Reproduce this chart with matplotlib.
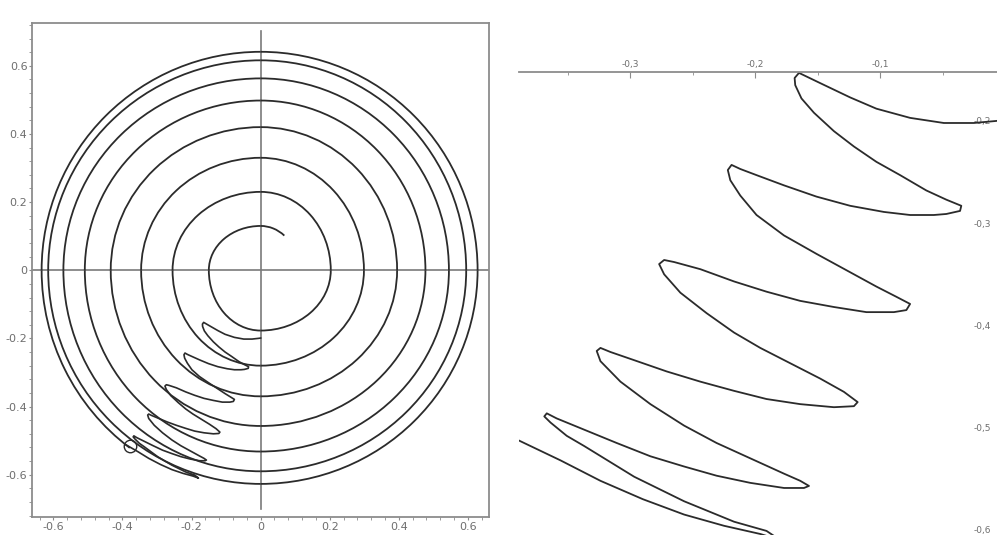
import matplotlib
matplotlib.use("Agg")
import matplotlib.pyplot as plt
from matplotlib.patches import Arc

# spiral: radius where it crosses the axes, counter-clockwise, starting at the top
ring_cross = [0.130, 0.150, 0.177, 0.203, 0.230, 0.255, 0.280, 0.299,
              0.330, 0.346, 0.370, 0.395, 0.420, 0.434, 0.457, 0.477,
              0.498, 0.509, 0.532, 0.545, 0.563, 0.571, 0.590, 0.595,
              0.616, 0.615, 0.627, 0.628, 0.641, 0.634]
spiral_start_angle = 56      # inner end of the spiral (deg)
spiral_start_rx = 0.11
spiral_end_angle = 234       # outer end, where the small circle sits
spiral_end_ry = 0.65
marker_x = [-0.378]
marker_y = [-0.517]

# the folded curve in the lower left
zig = [
    (-0.392, -0.511), (-0.356, -0.532), (-0.324, -0.552), (-0.290, -0.570),
    (-0.257, -0.585), (-0.225, -0.596), (-0.196, -0.604), (-0.180, -0.610),
    (-0.191, -0.601), (-0.217, -0.592), (-0.257, -0.572), (-0.297, -0.548),
    (-0.337, -0.518), (-0.351, -0.508), (-0.364, -0.495), (-0.369, -0.489),
    (-0.367, -0.486), (-0.359, -0.491), (-0.337, -0.502), (-0.311, -0.515),
    (-0.284, -0.528), (-0.257, -0.538), (-0.231, -0.547), (-0.204, -0.554),
    (-0.177, -0.559), (-0.161, -0.559), (-0.157, -0.557), (-0.164, -0.552),
    (-0.177, -0.545), (-0.204, -0.530), (-0.231, -0.515), (-0.257, -0.498),
    (-0.284, -0.477), (-0.308, -0.455), (-0.324, -0.435), (-0.327, -0.425),
    (-0.324, -0.422), (-0.316, -0.426), (-0.297, -0.434), (-0.271, -0.445),
    (-0.244, -0.455), (-0.217, -0.464), (-0.191, -0.472), (-0.164, -0.477),
    (-0.137, -0.480), (-0.121, -0.479), (-0.118, -0.475), (-0.129, -0.465),
    (-0.148, -0.452), (-0.172, -0.437), (-0.196, -0.422), (-0.217, -0.407),
    (-0.239, -0.388), (-0.260, -0.368), (-0.273, -0.350), (-0.277, -0.340),
    (-0.273, -0.336), (-0.265, -0.338), (-0.244, -0.345), (-0.217, -0.357),
    (-0.191, -0.367), (-0.164, -0.376), (-0.137, -0.382), (-0.111, -0.387),
    (-0.089, -0.387), (-0.079, -0.385), (-0.076, -0.379), (-0.087, -0.372),
    (-0.103, -0.362), (-0.124, -0.348), (-0.151, -0.330), (-0.177, -0.312),
    (-0.199, -0.292), (-0.212, -0.273), (-0.220, -0.258), (-0.222, -0.248),
    (-0.219, -0.243), (-0.212, -0.247), (-0.199, -0.253), (-0.177, -0.263),
    (-0.151, -0.274), (-0.124, -0.283), (-0.097, -0.289), (-0.076, -0.292),
    (-0.057, -0.292), (-0.047, -0.291), (-0.036, -0.288), (-0.035, -0.283),
    (-0.047, -0.277), (-0.063, -0.268), (-0.084, -0.253), (-0.103, -0.240),
    (-0.121, -0.225), (-0.137, -0.210), (-0.153, -0.192), (-0.163, -0.178),
    (-0.168, -0.165), (-0.1685, -0.158), (-0.165, -0.153), (-0.148, -0.163),
    (-0.124, -0.177), (-0.103, -0.188), (-0.076, -0.197), (-0.049, -0.202),
    (-0.025, -0.202), (-0.007, -0.200), (0.000, -0.199),
]
zig_x = [p[0] for p in zig]
zig_y = [p[1] for p in zig]

left_ticks = [-0.6, -0.4, -0.2, 0, 0.2, 0.4, 0.6]
left_ticklabels = ['-0.6', '-0.4', '-0.2', '0', '0.2', '0.4', '0.6']
right_xticks = [-0.3, -0.2, -0.1]
right_xticklabels = ['-0,3', '-0,2', '-0,1']
right_yticks = [-0.2, -0.3, -0.4, -0.5, -0.6]
right_yticklabels = ['-0,2', '-0,3', '-0,4', '-0,5', '-0,6']

W, H = 997, 535
fig = plt.figure(figsize=(W / 100, H / 100), dpi=100)
curve_col = '#2b2b2b'
axis_col = '#7a7a7a'
lab_col = '#6e6e6e'

# ---------------- left panel ----------------
ax = fig.add_axes([32.3 / W, 1 - 517.3 / H, (489 - 32.3) / W, (517.3 - 22.5) / H])
ax.set_xlim(-0.661, 0.661)
ax.set_ylim(-0.725, 0.727)

def quarter(rx, ry, t1, t2):
    ax.add_patch(Arc((0, 0), 2 * rx, 2 * ry, theta1=t1, theta2=t2,
                     color=curve_col, lw=1.3))

quarter(spiral_start_rx, ring_cross[0], spiral_start_angle, 90)
for i in range(len(ring_cross) - 1):
    a = 90 * (i + 1)
    c0, c1 = ring_cross[i], ring_cross[i + 1]
    if (a // 90) % 2 == 1:      # starts on the y axis
        rx, ry = c1, c0
    else:
        rx, ry = c0, c1
    quarter(rx, ry, a % 360, a % 360 + 90)
quarter(ring_cross[-1], spiral_end_ry, 180, spiral_end_angle)

ax.plot(zig_x, zig_y, color=curve_col, lw=1.2, solid_joinstyle='round')
ax.plot(marker_x, marker_y, 'o', ms=9, mfc='none', mec=curve_col, mew=1.0)

ax.axhline(0, color=axis_col, lw=1.2, zorder=0)
ax.axvline(0, ymin=0.017, ymax=0.983, color=axis_col, lw=1.2, zorder=0)

for s in ax.spines.values():
    s.set_color('#8c8c8c')
    s.set_linewidth(1.3)
ax.set_xticks(left_ticks)
ax.set_xticklabels(left_ticklabels)
ax.set_yticks(left_ticks)
ax.set_yticklabels(left_ticklabels)
ax.set_xticks([i * 0.04 - 0.64 for i in range(33)], minor=True)
ax.set_yticks([i * 0.04 - 0.72 for i in range(37)], minor=True)
ax.tick_params(which='both', direction='out', color='#8c8c8c', labelcolor=lab_col,
               labelsize=8, top=False, right=False)
ax.tick_params(which='major', length=2.5, pad=1)
ax.tick_params(which='minor', length=2)

# ---------------- right panel (zoomed view) ----------------
ax2 = fig.add_axes([519.3 / W, 0, (1005 - 519.3) / W, 1])
ax2.set_xlim(-0.389, 0.0)
ax2.set_ylim(-0.605, -0.0817)
ax2.patch.set_alpha(0)
ax2.plot(zig_x, zig_y, color=curve_col, lw=1.3, solid_joinstyle='round')

ax2.spines['right'].set_visible(False)
ax2.spines['bottom'].set_visible(False)
ax2.spines['top'].set_position(('data', -0.152))
ax2.spines['top'].set_color('#8c8c8c')
ax2.spines['top'].set_linewidth(1.3)
ax2.spines['left'].set_position(('data', 0.0))
ax2.spines['left'].set_color('#8c8c8c')
ax2.xaxis.tick_top()
ax2.set_xticks(right_xticks)
ax2.set_xticklabels(right_xticklabels)
ax2.set_xticks([-0.35, -0.25, -0.15, -0.05], minor=True)
ax2.set_yticks(right_yticks)
ax2.set_yticklabels(right_yticklabels)
ax2.tick_params(which='both', direction='in', color='#8c8c8c', labelcolor=lab_col,
                labelsize=6.5)
ax2.tick_params(axis='x', which='major', length=4, pad=2)
ax2.tick_params(axis='x', which='minor', length=2)
ax2.tick_params(axis='y', which='major', length=3, pad=10)

fig.savefig('out.png', dpi=100)
